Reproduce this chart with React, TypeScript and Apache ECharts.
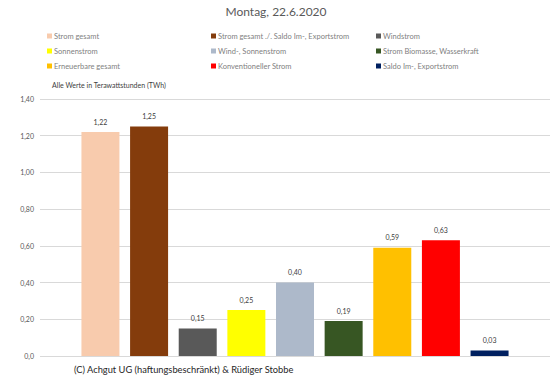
import React, { useEffect, useRef } from "react";
import * as echarts from "echarts";

const seriesNames = [
  "Strom gesamt",
  "Strom gesamt ./. Saldo Im-, Exportstrom",
  "Windstrom",
  "Sonnenstrom",
  "Wind-, Sonnenstrom",
  "Strom Biomasse, Wasserkraft",
  "Erneuerbare gesamt",
  "Konventioneller Strom",
  "Saldo Im-, Exportstrom",
];
const values = [1.22, 1.25, 0.15, 0.25, 0.4, 0.19, 0.59, 0.63, 0.03];
const colors = [
  "#F8CBAD",
  "#843C0C",
  "#595959",
  "#FFFF00",
  "#ADB9CA",
  "#375623",
  "#FFC000",
  "#FF0000",
  "#002060",
];
const categories = [""];

const fmt = (v: number) => (v === 0 ? "0,0" : v.toFixed(2).replace(".", ","));

export default function App() {
  const ref = useRef<HTMLDivElement>(null);
  useEffect(() => {
    if (!ref.current) return;
    const chart = echarts.init(ref.current, undefined, { renderer: "svg" });
    const font = "Lato, 'Noto Sans', sans-serif";
    const legendCol = (idx: number[], left: number) => ({
      show: true,
      orient: "vertical" as const,
      left,
      top: 26,
      itemWidth: 5,
      itemHeight: 5,
      itemGap: 5,
      icon: "rect",
      selectedMode: false,
      data: idx.map((i) => seriesNames[i]),
      textStyle: { fontSize: 7.5, color: "#7f7f7f", fontFamily: font, padding: [0, 0, 0, -3] as any, lineHeight: 10 },
    });
    chart.setOption({
      animation: false,
      backgroundColor: "#fff",
      title: [
        {
          text: "Montag, 22.6.2020",
          left: "center",
          top: 0,
          textStyle: { fontSize: 12, fontWeight: "normal", color: "#595959", fontFamily: font },
        },
        {
          text: "Alle Werte in Terawattstunden (TWh)",
          left: 47,
          top: 76,
          textStyle: { fontSize: 7, fontWeight: "normal", color: "#404040", fontFamily: font },
        },
        {
          text: "(C) Achgut UG (haftungsbeschränkt) & Rüdiger Stobbe",
          left: 69,
          top: 360,
          textStyle: { fontSize: 9.3, fontWeight: "normal", color: "#262626", fontFamily: font },
        },
      ],
      legend: [legendCol([0, 3, 6], 42), legendCol([1, 4, 7], 206), legendCol([2, 5, 8], 371)],
      grid: { left: 40, right: 2, top: 99, bottom: 26, containLabel: false },
      xAxis: {
        type: "category",
        data: categories,
        axisLine: { show: false },
        axisTick: { show: false },
        axisLabel: { show: false },
      },
      yAxis: {
        type: "value",
        min: 0,
        max: 1.4,
        interval: 0.2,
        axisLine: { show: false },
        axisTick: { show: false },
        splitLine: { lineStyle: { color: "#d9d9d9", width: 1 } },
        axisLabel: {
          formatter: (v: number) => fmt(v),
          fontSize: 7,
          color: "#595959",
          fontFamily: font,
          margin: 6,
        },
      },
      series: seriesNames.map((name, i) => ({
        name,
        type: "bar",
        data: [values[i]],
        barWidth: 38,
        barGap: "28%",
        itemStyle: { color: colors[i] },
        label: {
          show: true,
          position: "top",
          distance: 7,
          formatter: (p: any) => fmt(p.value),
          fontSize: 7,
          color: "#404040",
          fontFamily: font,
        },
      })),
    });
    return () => chart.dispose();
  }, []);
  return <div ref={ref} style={{ width: 552, height: 382, position: "absolute", left: 0, top: 0 }} />;
}
